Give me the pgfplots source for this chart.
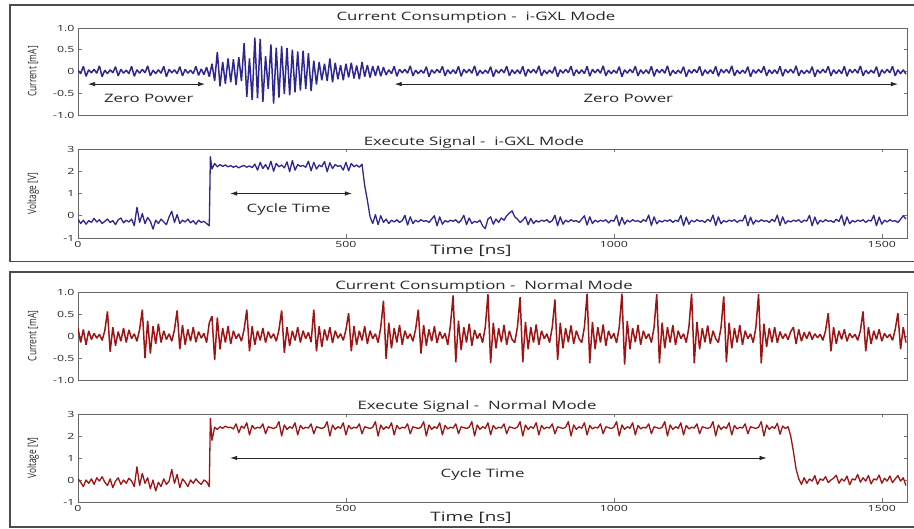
\documentclass[border=0pt]{standalone}
\usepackage{pgfplots}
\pgfplotsset{compat=1.18}
\usetikzlibrary{arrows.meta}
\usepackage{fontspec}
\setmainfont{Open Sans}[FakeStretch=1.45]
\newfontfamily\condfont{Open Sans}[FakeStretch=0.72]
\definecolor{gxlblue}{RGB}{46,38,145}
\definecolor{nrmred}{RGB}{158,20,20}
\pgfplotsset{
 panel/.style={scale only axis, width=829pt, anchor=south west, xmin=0, xmax=1547,
  axis line style={draw=black!60, line width=0.5pt}, tick align=inside, major tick length=3.5pt,
  tick style={black!55, line width=0.5pt},
  tick label style={font=\fontsize{8.5}{9}\selectfont, text=black!85},
  /pgf/number format/assume math mode=true},
 cur/.style={ymin=-1, ymax=1, ytick={-1,-0.5,0,0.5,1}, yticklabels={-1.0,-0.5,0,0.5,1.0}, xtick=\empty},
 vol/.style={ymin=-1, ymax=3, ytick={-1,0,1,2,3}, yticklabels={-1,0,1,2,3}, xtick={0,500,1000,1500}, xticklabels={0,500,1000,1500}},
}
\tikzset{dbl/.style={{Latex[length=7pt,width=4.5pt]}-{Latex[length=7pt,width=4.5pt]}, line width=0.7pt, black!85},
 ann/.style={font=\fontsize{11.6}{12}\selectfont, text=black!85},
 ttl/.style={font=\fontsize{11.6}{12}\selectfont, text=black!85},
 ylab/.style={font=\condfont\fontsize{11.6}{12}\selectfont, rotate=90, text=black!85}}
\begin{document}
\begin{tikzpicture}[x=1pt,y=1pt]
\useasboundingbox (0,0) rectangle (914,529);
\draw[line width=1.6pt, black!70] (916,524) -- (10,524) -- (10,267.3) -- (916,267.3);
\draw[line width=1.6pt, black!70] (916,256.7) -- (10,256.7) -- (10,2) -- (916,2);
% Panel 1
\begin{axis}[panel, cur, at={(78pt,414pt)}, height=87pt]
\addplot[gxlblue, line width=1.5pt, line join=bevel] coordinates {(0,0.03)(5,-0.05)(10,0.12)(15,-0.11)(20,0.04)(25,-0.03)(30,0.05)(35,-0.04)(40,0.13)(45,-0.12)(50,0.03)(55,-0.05)(60,0.04)(65,-0.03)(70,0.11)(75,-0.10)(80,0.05)(85,-0.04)(90,0.03)(95,-0.05)(100,0.12)(105,-0.11)(110,0.04)(115,-0.04)(120,0.05)(125,-0.03)(130,0.13)(135,-0.10)(140,0.03)(145,-0.05)(150,0.04)(155,-0.04)(160,0.12)(165,-0.12)(170,0.05)(175,-0.03)(180,0.04)(185,-0.05)(190,0.11)(195,-0.10)(200,0.05)(205,-0.04)(210,0.03)(215,-0.05)(220,0.12)(225,-0.09)(230,0.06)(235,-0.07)(240,0.10)(245,-0.12)
(250,0.18)(255,-0.22)(260,0.45)(265,-0.34)(270,0.22)(275,-0.28)(280,0.30)(285,-0.25)(290,0.28)(295,-0.31)(300,0.33)(305,-0.22)(310,0.65)(315,-0.58)(320,0.30)(325,-0.66)(330,0.78)(335,-0.62)(340,0.75)(345,-0.70)(350,0.35)(355,-0.40)(360,0.62)(365,-0.74)(370,0.55)(375,-0.60)(380,0.58)(385,-0.52)(390,0.54)(395,-0.55)(400,0.50)(405,-0.48)(410,0.46)(415,-0.44)(420,0.48)(425,-0.40)(430,0.42)(435,-0.45)(440,0.25)(445,-0.30)(450,0.22)(455,-0.20)(460,0.18)(465,-0.22)(470,0.30)(475,-0.25)(480,0.20)(485,-0.18)(490,0.15)(495,-0.20)(500,0.18)(505,-0.14)(510,0.20)(515,-0.16)(520,0.14)(525,-0.18)(530,0.22)(535,-0.12)(540,0.15)(545,-0.14)(550,0.12)(555,-0.10)(560,0.13)(565,-0.11)(570,0.10)(575,-0.08)
(580,0.04)(585,-0.05)(590,0.12)(595,-0.11)(600,0.05)(605,-0.03)(610,0.05)(615,-0.04)(620,0.13)(625,-0.10)(630,0.03)(635,-0.05)(640,0.03)(645,-0.04)(650,0.11)(655,-0.12)(660,0.04)(665,-0.04)(670,0.05)(675,-0.03)(680,0.12)(685,-0.10)(690,0.04)(695,-0.05)
(700,0.04)(705,-0.05)(710,0.12)(715,-0.11)(720,0.05)(725,-0.03)(730,0.05)(735,-0.04)(740,0.13)(745,-0.10)(750,0.03)(755,-0.05)(760,0.03)(765,-0.04)(770,0.11)(775,-0.12)(780,0.04)(785,-0.04)(790,0.05)(795,-0.03)(800,0.12)(805,-0.10)(810,0.04)(815,-0.05)
(820,0.04)(825,-0.05)(830,0.12)(835,-0.11)(840,0.05)(845,-0.03)(850,0.05)(855,-0.04)(860,0.13)(865,-0.10)(870,0.03)(875,-0.05)(880,0.03)(885,-0.04)(890,0.11)(895,-0.12)(900,0.04)(905,-0.04)(910,0.05)(915,-0.03)(920,0.12)(925,-0.10)(930,0.04)(935,-0.05)
(940,0.04)(945,-0.05)(950,0.12)(955,-0.11)(960,0.05)(965,-0.03)(970,0.05)(975,-0.04)(980,0.13)(985,-0.10)(990,0.03)(995,-0.05)(1000,0.03)(1005,-0.04)(1010,0.11)(1015,-0.12)(1020,0.04)(1025,-0.04)(1030,0.05)(1035,-0.03)(1040,0.12)(1045,-0.10)(1050,0.04)(1055,-0.05)
(1060,0.04)(1065,-0.05)(1070,0.12)(1075,-0.11)(1080,0.05)(1085,-0.03)(1090,0.05)(1095,-0.04)(1100,0.13)(1105,-0.10)(1110,0.03)(1115,-0.05)(1120,0.03)(1125,-0.04)(1130,0.11)(1135,-0.12)(1140,0.04)(1145,-0.04)(1150,0.05)(1155,-0.03)(1160,0.12)(1165,-0.10)(1170,0.04)(1175,-0.05)
(1180,0.04)(1185,-0.05)(1190,0.12)(1195,-0.11)(1200,0.05)(1205,-0.03)(1210,0.05)(1215,-0.04)(1220,0.13)(1225,-0.10)(1230,0.03)(1235,-0.05)(1240,0.03)(1245,-0.04)(1250,0.11)(1255,-0.12)(1260,0.04)(1265,-0.04)(1270,0.05)(1275,-0.03)(1280,0.12)(1285,-0.10)(1290,0.04)(1295,-0.05)
(1300,0.04)(1305,-0.05)(1310,0.12)(1315,-0.11)(1320,0.05)(1325,-0.03)(1330,0.05)(1335,-0.04)(1340,0.13)(1345,-0.10)(1350,0.03)(1355,-0.05)(1360,0.03)(1365,-0.04)(1370,0.11)(1375,-0.12)(1380,0.04)(1385,-0.04)(1390,0.05)(1395,-0.03)(1400,0.12)(1405,-0.10)(1410,0.04)(1415,-0.05)
(1420,0.04)(1425,-0.05)(1430,0.12)(1435,-0.11)(1440,0.05)(1445,-0.03)(1450,0.05)(1455,-0.04)(1460,0.13)(1465,-0.10)(1470,0.03)(1475,-0.05)(1480,0.03)(1485,-0.04)(1490,0.11)(1495,-0.12)(1500,0.04)(1505,-0.04)(1510,0.05)(1515,-0.03)(1520,0.12)(1525,-0.10)(1530,0.04)(1535,-0.05)(1540,0.04)(1545,-0.06)};
\draw[dbl] (axis cs:18.7,-0.29) -- (axis cs:237,-0.29);
\draw[dbl] (axis cs:591,-0.29) -- (axis cs:1530,-0.29);
\node[ann] at (axis cs:132,-0.63) {Zero Power};
\node[ann] at (axis cs:1027,-0.63) {Zero Power};
\end{axis}
% Panel 2
\begin{axis}[panel, vol, at={(78pt,291pt)}, height=89pt]
\addplot[gxlblue, line width=1.3pt, line join=round] coordinates {(0,-0.15)(5,-0.35)(10,-0.20)(15,-0.38)(20,-0.22)(25,-0.30)(30,-0.12)(35,-0.28)(40,-0.18)(45,-0.35)(50,-0.25)(55,-0.15)(60,-0.30)(65,-0.22)(70,-0.40)(75,-0.18)(80,-0.10)(85,-0.32)(90,-0.20)(95,-0.28)(100,-0.15)(105,-0.45)(110,0.38)(115,-0.30)(120,0.10)(125,-0.35)(130,-0.08)(135,-0.25)(140,-0.60)(145,-0.20)(150,-0.35)(155,-0.15)(160,-0.28)(165,-0.40)(170,-0.05)(175,0.20)(180,-0.30)(185,0.05)(190,-0.35)(195,-0.20)(200,-0.28)(205,-0.15)(210,-0.32)(215,-0.22)(220,-0.38)(225,-0.20)(230,-0.30)(235,-0.25)(240,-0.35)(245,-0.45)
(247,2.65)(250,2.10)(255,2.35)(260,2.20)(265,2.30)(270,2.22)(275,2.28)(280,2.20)(285,2.25)(290,2.18)(295,2.24)(300,2.15)(305,2.22)(310,2.26)(315,2.18)(320,2.24)(325,2.16)(330,2.32)(335,2.05)(340,2.40)(345,2.12)(350,2.30)(355,2.08)(360,2.45)(365,2.00)(370,2.35)(375,2.20)(380,2.28)(385,2.15)(390,2.42)(395,1.98)(400,2.48)(405,2.05)(410,2.30)(415,2.22)(420,2.26)(425,2.18)(430,2.45)(435,2.02)(440,2.40)(445,2.10)(450,2.28)(455,2.20)(460,2.44)(465,1.98)(470,2.38)(475,2.12)(480,2.30)(485,2.22)(490,2.25)(495,2.05)(500,2.40)(505,2.02)(510,2.35)(515,2.20)(520,2.28)(525,2.18)(530,2.32)(535,1.35)(540,0.70)(545,-0.05)(550,-0.35)
(555,0.05)(560,-0.40)(565,0.00)(570,-0.30)(575,-0.15)(580,-0.35)(585,-0.20)(590,-0.28)(595,-0.18)(600,-0.30)(605,-0.22)(610,0.02)(615,-0.42)(620,-0.05)(625,-0.35)(630,-0.20)(635,-0.28)(640,-0.18)(645,-0.25)(650,-0.22)(655,-0.30)(660,-0.15)(665,0.00)(670,-0.45)(675,-0.05)(680,-0.38)(685,-0.22)(690,-0.28)(695,-0.20)(700,-0.25)(705,-0.18)(710,-0.32)(715,-0.20)(720,0.02)(725,-0.40)(730,-0.10)(735,-0.35)(740,-0.25)(745,-0.30)(750,-0.20)(755,-0.45)(760,-0.58)(765,-0.15)(770,-0.05)(775,-0.38)(780,-0.15)(785,-0.30)(790,-0.10)(795,-0.20)(800,0.00)(805,0.12)(810,0.22)(815,-0.05)(820,-0.15)(825,-0.30)(830,-0.20)(835,-0.05)(840,-0.40)(845,-0.12)(850,-0.35)(855,-0.22)(860,-0.28)(865,-0.20)(870,-0.25)(875,-0.18)(880,-0.30)(885,-0.22)(890,0.02)(895,-0.45)(900,-0.05)(905,-0.38)(910,-0.20)(915,-0.28)(920,-0.18)(925,-0.25)(930,-0.22)(935,-0.30)(940,-0.15)(945,0.00)(950,-0.42)(955,-0.05)(960,-0.35)(965,-0.20)(970,-0.28)(975,-0.20)(980,-0.25)(985,-0.18)(990,-0.32)(995,-0.20)(1000,-0.25)(1005,0.02)(1010,-0.45)(1015,-0.08)(1020,-0.38)(1025,-0.20)(1030,-0.28)(1035,-0.18)(1040,-0.25)(1045,-0.22)(1050,-0.30)(1055,-0.18)(1060,-0.25)(1065,0.03)(1070,-0.44)(1075,-0.05)(1080,-0.36)(1085,-0.22)(1090,-0.28)(1095,-0.20)(1100,-0.25)(1105,-0.18)(1110,-0.30)(1115,-0.20)(1120,-0.26)(1125,0.02)(1130,-0.45)(1135,-0.06)(1140,-0.38)(1145,-0.20)(1150,-0.28)(1155,-0.18)(1160,-0.25)(1165,-0.22)(1170,-0.30)(1175,-0.16)(1180,-0.26)(1185,0.03)(1190,-0.44)(1195,-0.05)(1200,-0.36)(1205,-0.22)(1210,-0.28)(1215,-0.20)(1220,-0.25)(1225,-0.18)(1230,-0.30)(1235,-0.20)(1240,-0.24)(1245,0.02)(1250,-0.45)(1255,-0.06)(1260,-0.38)(1265,-0.20)(1270,-0.28)(1275,-0.18)(1280,-0.25)(1285,-0.22)(1290,-0.30)(1295,-0.16)(1300,-0.26)(1305,0.03)(1310,-0.44)(1315,-0.05)(1320,-0.36)(1325,-0.22)(1330,-0.28)(1335,-0.20)(1340,-0.25)(1345,-0.18)(1350,-0.30)(1355,-0.20)(1360,-0.24)(1365,0.02)(1370,-0.45)(1375,-0.06)(1380,-0.38)(1385,-0.20)(1390,-0.28)(1395,-0.18)(1400,-0.25)(1405,-0.22)(1410,-0.30)(1415,-0.16)(1420,-0.26)(1425,0.03)(1430,-0.44)(1435,-0.05)(1440,-0.36)(1445,-0.22)(1450,-0.28)(1455,-0.20)(1460,-0.25)(1465,-0.18)(1470,-0.30)(1475,-0.20)(1480,-0.24)(1485,0.02)(1490,-0.45)(1495,-0.06)(1500,-0.38)(1505,-0.20)(1510,-0.28)(1515,-0.18)(1520,-0.25)(1525,-0.22)(1530,-0.30)(1535,-0.16)(1540,0.00)(1545,-0.15)};
\draw[dbl] (axis cs:284,1.0) -- (axis cs:511,1.0);
\node[ann] at (axis cs:393,0.26) {Cycle Time};
\end{axis}
% Panel 3
\begin{axis}[panel, cur, at={(78pt,149pt)}, height=88pt]
\addplot[nrmred, line width=1.5pt, line join=bevel] coordinates {(0,0.18)(5,-0.15)(10,0.15)(15,-0.20)(20,0.12)(25,-0.08)(30,0.06)(35,-0.05)(40,0.04)(45,-0.10)(50,0.12)
(55,0.56)(60,-0.36)(65,0.20)(70,-0.22)(75,0.10)(80,-0.12)(85,0.18)(90,-0.15)(95,0.14)(100,-0.06)(105,0.05)(110,-0.12)(115,0.15)
(120,0.60)(125,-0.50)(130,0.35)(135,-0.40)(140,0.22)(145,-0.18)(150,0.28)(155,-0.15)(160,0.12)(165,-0.08)(170,0.05)(175,-0.12)(180,0.14)
(185,0.58)(190,-0.30)(195,0.25)(200,-0.20)(205,0.15)(210,-0.12)(215,0.20)(220,-0.14)(225,0.10)(230,-0.05)(235,0.06)(240,-0.15)(245,0.30)
(250,0.45)(255,-0.55)(260,0.42)(265,-0.30)(270,0.18)(275,-0.15)(280,0.22)(285,-0.18)(290,0.12)(295,-0.06)(300,0.05)(305,-0.12)(310,0.15)
(315,0.60)(320,-0.35)(325,0.22)(330,-0.20)(335,0.12)(340,-0.10)(345,0.18)(350,-0.15)(355,0.10)(360,-0.05)(365,0.05)(370,-0.12)(375,0.14)
(380,0.58)(385,-0.38)(390,0.20)(395,-0.22)(400,0.12)(405,-0.10)(410,0.20)(415,-0.15)(420,0.12)(425,-0.06)(430,0.08)(435,-0.14)
(440,0.60)(445,-0.35)(450,0.22)(455,-0.25)(460,0.15)(465,-0.10)(470,0.20)(475,-0.16)(480,0.12)(485,-0.05)(490,0.05)(495,-0.10)(500,0.14)
(505,0.52)(510,-0.35)(515,0.22)(520,-0.20)(525,0.12)(530,-0.10)(535,0.22)(540,-0.18)(545,0.12)(550,-0.06)(555,0.05)(560,-0.15)(565,0.20)
(570,0.80)(575,-0.52)(580,0.30)(585,-0.28)(590,0.18)(595,-0.15)(600,0.25)(605,-0.20)(610,0.12)(615,-0.06)(620,0.05)(625,-0.12)(630,0.15)
(635,0.60)(640,-0.40)(645,0.25)(650,-0.22)(655,0.15)(660,-0.12)(665,0.22)(670,-0.16)(675,0.10)(680,-0.06)(685,0.06)(690,-0.20)(695,0.25)
(700,0.92)(705,-0.60)(710,0.35)(715,-0.32)(720,0.20)(725,-0.15)(730,0.28)(735,-0.22)(740,0.14)(745,-0.06)(750,0.06)(755,-0.15)(760,0.20)
(765,0.95)(770,-0.62)(775,0.30)(780,-0.28)(785,0.18)(790,-0.14)(795,0.25)(800,-0.20)(805,0.12)(810,-0.08)(815,-0.15)(820,0.20)
(825,0.88)(830,-0.60)(835,0.32)(840,-0.30)(845,0.20)(850,-0.15)(855,0.26)(860,-0.20)(865,0.12)(870,-0.06)(875,0.05)(880,-0.15)(885,0.20)
(890,0.83)(895,-0.55)(900,0.30)(905,-0.28)(910,0.18)(915,-0.14)(920,0.24)(925,-0.18)(930,0.12)(935,-0.06)(940,-0.15)(945,0.20)
(950,0.96)(955,-0.62)(960,0.32)(965,-0.30)(970,0.20)(975,-0.15)(980,0.26)(985,-0.22)(990,0.12)(995,-0.06)(1000,0.06)(1005,-0.16)(1010,0.20)
(1015,0.96)(1020,-0.65)(1025,0.34)(1030,-0.30)(1035,0.18)(1040,-0.14)(1045,0.25)(1050,-0.20)(1055,0.12)(1060,-0.06)(1065,0.05)(1070,-0.15)(1075,0.20)
(1080,0.95)(1085,-0.62)(1090,0.30)(1095,-0.28)(1100,0.20)(1105,-0.15)(1110,0.25)(1115,-0.20)(1120,0.12)(1125,-0.06)(1130,0.05)(1135,-0.15)(1140,0.20)
(1145,0.96)(1150,-0.62)(1155,0.32)(1160,-0.30)(1165,0.18)(1170,-0.14)(1175,0.24)(1180,-0.18)(1185,0.12)(1190,-0.06)(1195,-0.15)(1200,0.20)
(1205,0.90)(1210,-0.60)(1215,0.30)(1220,-0.28)(1225,0.18)(1230,-0.15)(1235,0.25)(1240,-0.20)(1245,0.12)(1250,-0.06)(1255,0.05)(1260,-0.15)(1265,0.20)
(1270,0.95)(1275,-0.62)(1280,0.28)(1285,-0.25)(1290,0.18)(1295,-0.14)(1300,0.20)(1305,-0.16)(1310,0.10)(1315,-0.06)(1320,0.05)(1325,-0.08)(1330,0.10)
(1335,0.20)(1340,-0.18)(1345,0.15)(1350,-0.12)(1355,0.08)(1360,-0.06)(1365,0.10)(1370,-0.08)(1375,0.05)(1380,-0.04)(1385,0.04)(1390,-0.10)(1395,0.12)
(1400,0.52)(1405,-0.35)(1410,0.20)(1415,-0.18)(1420,0.12)(1425,-0.08)(1430,0.15)(1435,-0.12)(1440,0.06)(1445,-0.04)(1450,0.04)(1455,-0.10)(1460,0.12)
(1465,0.56)(1470,-0.35)(1475,0.20)(1480,-0.18)(1485,0.12)(1490,-0.08)(1495,0.15)(1500,-0.12)(1505,0.06)(1510,-0.04)(1515,0.04)(1520,-0.10)(1525,0.15)
(1530,0.52)(1535,-0.30)(1540,0.20)(1545,-0.15)};
\end{axis}
% Panel 4
\begin{axis}[panel, vol, at={(78pt,27pt)}, height=88pt]
\addplot[nrmred, line width=1.3pt, line join=round] coordinates {(0,0.05)(5,-0.10)(10,-0.30)(15,0.00)(20,-0.15)(25,0.05)(30,-0.20)(35,0.10)(40,-0.05)(45,0.15)(50,-0.10)(55,-0.25)(60,0.05)(65,-0.35)(70,-0.05)(75,0.10)(80,-0.20)(85,0.00)(90,-0.15)(95,0.08)(100,-0.05)(105,-0.30)(110,0.60)(115,-0.25)(120,0.30)(125,-0.15)(130,0.10)(135,-0.40)(140,0.00)(145,-0.50)(150,-0.10)(155,-0.30)(160,0.05)(165,-0.20)(170,-0.05)(175,0.48)(180,-0.15)(185,0.25)(190,-0.35)(195,0.05)(200,-0.10)(205,-0.30)(210,0.00)(215,-0.15)(220,0.05)(225,-0.10)(230,-0.20)(235,0.00)(240,-0.08)(245,-0.30)
(247,2.80)(250,1.80)(255,2.40)(260,2.30)(265,2.42)(270,2.35)(275,2.45)(280,2.38)(285,2.40)(290,2.32)(295,2.55)(300,2.15)(305,2.45)(310,2.35)
(315,2.60)(320,2.05)(325,2.48)(330,2.32)(335,2.40)(340,2.36)(345,2.55)(350,2.10)(355,2.42)(360,2.38)(365,2.34)(370,2.40)(375,2.65)(380,2.00)(385,2.50)(390,2.30)(395,2.42)(400,2.35)
(405,2.60)(410,2.05)(415,2.48)(420,2.32)(425,2.40)(430,2.36)(435,2.55)(440,2.10)(445,2.42)(450,2.38)(455,2.34)(460,2.40)(465,2.65)(470,2.00)(475,2.50)(480,2.30)(485,2.42)(490,2.35)
(495,2.60)(500,2.05)(505,2.48)(510,2.32)(515,2.40)(520,2.36)(525,2.55)(530,2.10)(535,2.42)(540,2.38)(545,2.34)(550,2.40)(555,2.65)(560,2.00)(565,2.50)(570,2.30)(575,2.42)(580,2.35)
(585,2.60)(590,2.05)(595,2.48)(600,2.32)(605,2.40)(610,2.36)(615,2.55)(620,2.10)(625,2.42)(630,2.38)(635,2.34)(640,2.40)(645,2.65)(650,2.00)(655,2.50)(660,2.30)(665,2.42)(670,2.35)
(675,2.60)(680,2.05)(685,2.48)(690,2.32)(695,2.40)(700,2.36)(705,2.55)(710,2.10)(715,2.42)(720,2.38)(725,2.34)(730,2.40)(735,2.65)(740,2.00)(745,2.50)(750,2.30)(755,2.42)(760,2.35)
(765,2.60)(770,2.05)(775,2.48)(780,2.32)(785,2.40)(790,2.36)(795,2.55)(800,2.10)(805,2.42)(810,2.38)(815,2.34)(820,2.40)(825,2.65)(830,2.00)(835,2.50)(840,2.30)(845,2.42)(850,2.35)
(855,2.60)(860,2.05)(865,2.48)(870,2.32)(875,2.40)(880,2.36)(885,2.55)(890,2.10)(895,2.42)(900,2.38)(905,2.34)(910,2.40)(915,2.65)(920,2.00)(925,2.50)(930,2.30)(935,2.42)(940,2.35)
(945,2.60)(950,2.05)(955,2.48)(960,2.32)(965,2.40)(970,2.36)(975,2.55)(980,2.10)(985,2.42)(990,2.38)(995,2.34)(1000,2.40)(1005,2.65)(1010,2.00)(1015,2.50)(1020,2.30)(1025,2.42)(1030,2.35)
(1035,2.60)(1040,2.05)(1045,2.48)(1050,2.32)(1055,2.40)(1060,2.36)(1065,2.55)(1070,2.10)(1075,2.42)(1080,2.38)(1085,2.34)(1090,2.40)(1095,2.65)(1100,2.00)(1105,2.50)(1110,2.30)(1115,2.42)(1120,2.35)
(1125,2.60)(1130,2.05)(1135,2.48)(1140,2.32)(1145,2.40)(1150,2.36)(1155,2.55)(1160,2.10)(1165,2.42)(1170,2.38)(1175,2.34)(1180,2.40)(1185,2.65)(1190,2.00)(1195,2.50)(1200,2.30)(1205,2.42)(1210,2.35)
(1215,2.60)(1220,2.05)(1225,2.48)(1230,2.32)(1235,2.40)(1240,2.36)(1245,2.55)(1250,2.10)(1255,2.42)(1260,2.38)(1265,2.34)(1270,2.40)(1275,2.65)(1280,2.00)(1285,2.50)(1290,2.30)(1295,2.42)(1300,2.35)
(1305,2.58)(1310,2.08)(1315,2.45)(1320,2.34)(1325,2.42)(1330,2.00)(1335,1.30)(1340,0.50)(1345,0.05)(1350,-0.20)
(1355,0.10)(1360,-0.15)(1365,0.05)(1370,-0.05)(1375,0.20)(1380,-0.20)(1385,0.05)(1390,-0.02)(1395,0.15)(1400,-0.12)(1405,0.00)(1410,0.08)(1415,0.22)(1420,-0.15)(1425,0.05)(1430,-0.05)(1435,0.18)(1440,-0.22)(1445,0.05)(1450,0.00)(1455,0.25)(1460,-0.10)(1465,0.10)(1470,-0.05)(1475,0.20)(1480,-0.18)(1485,0.05)(1490,0.00)(1495,0.22)(1500,-0.15)(1505,0.08)(1510,-0.05)(1515,0.18)(1520,-0.12)(1525,0.05)(1530,0.20)(1535,-0.05)(1540,0.10)(1545,-0.25)};
\draw[dbl] (axis cs:284,1.0) -- (axis cs:1285,1.0);
\node[ann] at (axis cs:755,0.23) {Cycle Time};
\end{axis}
% titles and labels
\node[ttl] at (476,512) {Current Consumption -\ \ i-GXL Mode};
\node[ttl] at (474,387) {Execute Signal -\ \ i-GXL Mode};
\node[ttl] at (484,243) {Current Consumption -\ \ Normal Mode};
\node[ttl] at (477,123) {Execute Signal -\ \ Normal Mode};
\node[font=\fontsize{13}{14}\selectfont, text=black!85] at (471,278) {Time [ns]};
\node[font=\fontsize{13}{14}\selectfont, text=black!85] at (471,11) {Time [ns]};
\node[ylab] at (33,457.5) {Current [mA]};
\node[ylab] at (33,335.5) {Voltage [V]};
\node[ylab] at (33,193) {Current [mA]};
\node[ylab] at (33,71) {Voltage [V]};
\end{tikzpicture}
\end{document}
